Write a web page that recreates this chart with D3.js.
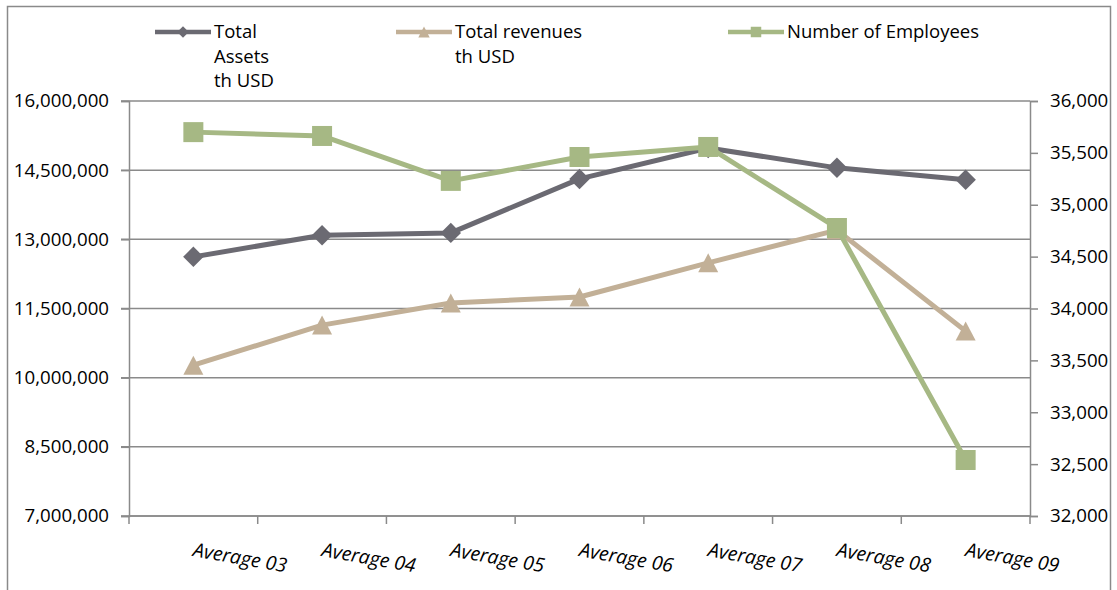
<!DOCTYPE html>
<html>
<head>
<meta charset="utf-8">
<script src="https://cdn.jsdelivr.net/npm/d3@7"></script>
<style>
  body { margin: 0; background: #fff; }
  svg text { font-family: "Open Sans", sans-serif; fill: #000; }
</style>
</head>
<body>
<div id="svganchor"></div>
<script>
/*
------------------------------
DATA
------------------------------
*/
let categories = ["Average 03", "Average 04", "Average 05", "Average 06", "Average 07", "Average 08", "Average 09"];
let totalAssets = [12620000, 13090000, 13140000, 14310000, 14980000, 14550000, 14290000];
let totalRevenues = [10270000, 11140000, 11620000, 11750000, 12490000, 13200000, 11010000];
let employees = [35700, 35663, 35230, 35460, 35557, 34776, 32540];
let leftTicks = [7000000, 8500000, 10000000, 11500000, 13000000, 14500000, 16000000];
let rightTicks = [32000, 32500, 33000, 33500, 34000, 34500, 35000, 35500, 36000];

/*
------------------------------
SIZE
------------------------------
*/
let width = 1117;
let height = 590;
let margin = ({top: 101, right: 87, bottom: 74, left: 129});

let colors = {assets: "#6b6a72", revenues: "#c2b097", employees: "#a6b884"};
let gridColor = "#8a8a8a";

let svg = d3.select("#svganchor")
    .append("svg")
    .attr("width", width)
    .attr("height", height);

// outer chart border
svg.append("rect")
    .attr("x", 7.5).attr("y", 6.5)
    .attr("width", 1103).attr("height", 600)
    .attr("fill", "none")
    .attr("stroke", "#8a8a8a")
    .attr("stroke-width", 1.5);

/*
------------------------------
SCALES
------------------------------
*/
let xScale = d3.scaleBand()
    .domain(categories)
    .range([margin.left, width - margin.right]);

let yLeft = d3.scaleLinear()
    .domain([7000000, 16000000])
    .range([height - margin.bottom, margin.top]);

let yRight = d3.scaleLinear()
    .domain([32000, 36000])
    .range([height - margin.bottom, margin.top]);

let cx = function(d, i) { return xScale(categories[i]) + xScale.bandwidth() / 2; };

// gridlines
svg.append("g")
    .selectAll("line")
    .data(leftTicks)
    .enter().append("line")
    .attr("x1", margin.left - 8)
    .attr("x2", width - margin.right)
    .attr("y1", d => yLeft(d))
    .attr("y2", d => yLeft(d))
    .attr("stroke", gridColor)
    .attr("stroke-width", 1.5);

/*
------------------------------
AXES
------------------------------
*/
let fmt = d3.format(",");

let leftAxis = svg.append("g")
    .attr("transform", "translate(" + margin.left + ",0)")
    .call(d3.axisLeft(yLeft).tickValues(leftTicks).tickFormat(fmt).tickSize(8).tickPadding(12));

let rightAxis = svg.append("g")
    .attr("transform", "translate(" + (width - margin.right) + ",0)")
    .call(d3.axisRight(yRight).tickValues(rightTicks).tickFormat(fmt).tickSize(8).tickPadding(12));

[leftAxis, rightAxis].forEach(function(ax) {
    ax.select(".domain").attr("stroke", gridColor).attr("stroke-width", 1.5);
    ax.selectAll(".tick line").attr("stroke", gridColor).attr("stroke-width", 1.5);
    ax.selectAll(".tick text")
        .attr("font-size", "18.7px")
        .attr("font-family", "Open Sans")
        .attr("fill", "#000");
});

// x axis: ticks at band edges
let xBase = height - margin.bottom;
let xAxisG = svg.append("g");
xAxisG.append("line")
    .attr("x1", margin.left).attr("x2", width - margin.right)
    .attr("y1", xBase).attr("y2", xBase)
    .attr("stroke", gridColor).attr("stroke-width", 1.5);
let edges = categories.map(c => xScale(c)).concat([width - margin.right]);
xAxisG.selectAll(".xt")
    .data(edges)
    .enter().append("line")
    .attr("x1", d => d).attr("x2", d => d)
    .attr("y1", xBase).attr("y2", xBase + 8)
    .attr("stroke", gridColor).attr("stroke-width", 1.5);
xAxisG.selectAll(".xl")
    .data(categories)
    .enter().append("text")
    .attr("transform", (d, i) => "translate(" + (cx(d, i) - 1) + "," + (xBase + 40) + ") rotate(10)")
    .attr("font-size", "19.5px")
    .attr("font-style", "italic")
    .text(d => d);

/*
------------------------------
SERIES
------------------------------
*/
function drawSeries(values, yScale, color, shape, size) {
    let line = d3.line()
        .x((d, i) => cx(d, i))
        .y(d => yScale(d));
    svg.append("path")
        .datum(values)
        .attr("d", line)
        .attr("fill", "none")
        .attr("stroke", color)
        .attr("stroke-width", 5)
        .attr("stroke-linejoin", "round");
    svg.append("g")
        .selectAll("path")
        .data(values)
        .enter().append("path")
        .attr("d", d3.symbol().type(shape).size(size))
        .attr("transform", (d, i) => "translate(" + cx(d, i) + "," + yScale(d) + ")")
        .attr("fill", color);
}

let diamond = {
    draw: function(context, size) {
        let r = Math.sqrt(size) / 2;
        context.moveTo(0, -r); context.lineTo(r, 0); context.lineTo(0, r); context.lineTo(-r, 0); context.closePath();
    }
};
let triangle = {
    draw: function(context, size) {
        let w = Math.sqrt(size) / 2;
        let h = w * 0.95;
        context.moveTo(0, -h); context.lineTo(w, h); context.lineTo(-w, h); context.closePath();
    }
};

drawSeries(totalAssets, yLeft, colors.assets, diamond, 420);
drawSeries(totalRevenues, yLeft, colors.revenues, triangle, 400);
drawSeries(employees, yRight, colors.employees, d3.symbolSquare, 400);

/*
------------------------------
LEGEND
------------------------------
*/
let legendItems = [
    {x: 155, lines: ["Total", "Assets", "th USD"], color: colors.assets, shape: diamond, size: 130},
    {x: 396, lines: ["Total revenues", "th USD"], color: colors.revenues, shape: triangle, size: 130},
    {x: 728, lines: ["Number of Employees"], color: colors.employees, shape: d3.symbolSquare, size: 110}
];
let legendY = 32;
legendItems.forEach(function(item) {
    let g = svg.append("g");
    g.append("line")
        .attr("x1", item.x).attr("x2", item.x + 56)
        .attr("y1", legendY).attr("y2", legendY)
        .attr("stroke", item.color).attr("stroke-width", 4.5);
    g.append("path")
        .attr("d", d3.symbol().type(item.shape).size(item.size))
        .attr("transform", "translate(" + (item.x + 28) + "," + legendY + ")")
        .attr("fill", item.color);
    g.selectAll("text")
        .data(item.lines)
        .enter().append("text")
        .attr("x", item.x + 59)
        .attr("y", (d, i) => 38 + i * 24.5)
        .attr("font-size", "18.5px")
        .text(d => d);
});
</script>
</body>
</html>
